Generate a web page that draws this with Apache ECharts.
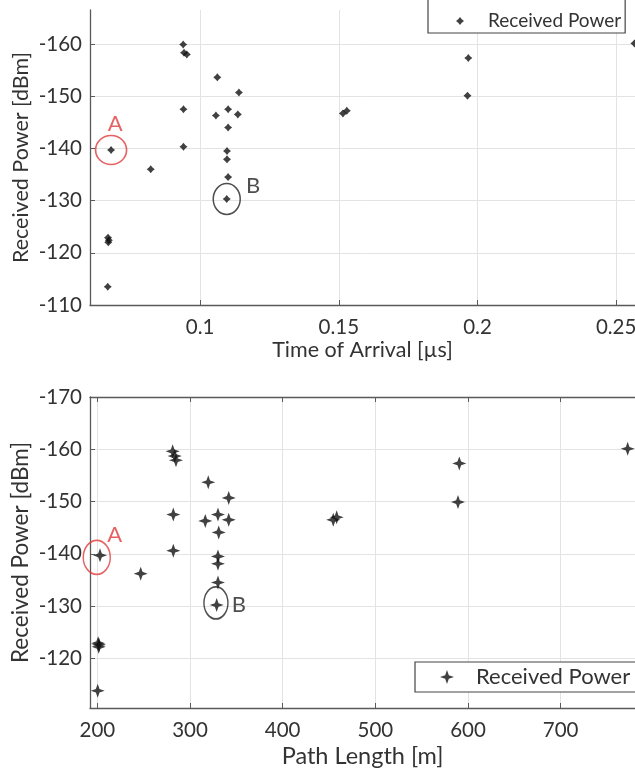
<!DOCTYPE html>
<html>
<head>
<meta charset="utf-8">
<script src="https://cdn.jsdelivr.net/npm/echarts@6/dist/echarts.min.js"></script>
<style>
  html, body { margin: 0; padding: 0; background: #fff; }
  #chart { width: 635px; height: 774px; }
</style>
</head>
<body>
<div id="chart"></div>
<script>
// top panel: received power vs time of arrival [us]
const toaTime = [0.0667, 0.0668, 0.0671, 0.0669, 0.0679, 0.0822, 0.0939, 0.0942, 0.0952, 0.0940, 0.0940,
  0.1062, 0.1140, 0.1057, 0.1101, 0.1136, 0.1101, 0.1097, 0.1097, 0.1101, 0.1096, 0.1515, 0.1529, 0.1967, 0.1964, 0.2566];
const toaPower = [-113.5, -122.9, -122.4, -122.0, -139.7, -136.0, -159.9, -158.3, -158.0, -147.5, -140.3,
  -153.6, -150.7, -146.3, -147.5, -146.5, -144.0, -139.5, -137.9, -134.5, -130.3, -146.7, -147.2, -157.3, -150.1, -160.1];

// bottom panel: received power vs path length [m]
const pathLen = [200.4, 200.9, 201.8, 201.5, 202.9, 246.8, 281.3, 283.5, 284.9, 282.0, 282.0,
  319.7, 341.8, 316.5, 330.2, 341.8, 331.0, 330.2, 330.2, 330.2, 328.8, 454.6, 458.3, 590.6, 589.2, 772.3];
const pathPower = [-113.8, -122.9, -122.6, -122.2, -139.7, -136.2, -159.6, -158.7, -157.9, -147.5, -140.6,
  -153.7, -150.7, -146.3, -147.5, -146.5, -144.1, -139.5, -138.1, -134.5, -130.2, -146.5, -147.0, -157.3, -149.9, -160.1];

// marked paths A and B (index into the arrays above)
const markA = 4;
const markB = 20;

const FONT = 'Lato';
const TXT = '#333';
const AXIS = '#5a5a5a';
const GRIDLINE = '#e3e3e3';

const dotPath = 'path://M0,-10 L4.5,-4.5 L10,0 L4.5,4.5 L0,10 L-4.5,4.5 L-10,0 L-4.5,-4.5 Z';
const starPath = 'path://M0,-10 L2.6,-2.6 L10,0 L2.6,2.6 L0,10 L-2.6,2.6 L-10,0 L-2.6,-2.6 Z';

function zip(xs, ys) { return xs.map((x, i) => [x, ys[i]]); }

function xAxisOf(grid, min, max, split, name, gap, nameSize) {
  return {
    type: 'value', gridIndex: grid, min: min, max: max, splitNumber: split,
    name: name, nameLocation: 'middle', nameGap: gap,
    nameTextStyle: { fontFamily: FONT, fontSize: nameSize, color: TXT },
    axisLine: { show: true, onZero: false, lineStyle: { color: AXIS, width: 1.3 } },
    axisTick: { show: true, inside: true, length: 5, lineStyle: { color: AXIS } },
    axisLabel: { fontFamily: FONT, fontSize: 20.5, color: TXT, margin: 12, showMinLabel: false, showMaxLabel: false },
    splitLine: { show: true, showMinLine: false, showMaxLine: false, lineStyle: { color: GRIDLINE, width: 1 } }
  };
}

function yAxisOf(grid, min, max, minLabel, maxLabel, nameSize) {
  return {
    type: 'value', gridIndex: grid, inverse: true, min: min, max: max, splitNumber: 5,
    name: 'Received Power [dBm]', nameLocation: 'middle', nameGap: 58, nameMoveOverlap: false,
    nameTextStyle: { fontFamily: FONT, fontSize: nameSize, color: TXT },
    axisLine: { show: true, onZero: false, lineStyle: { color: AXIS, width: 1.3 } },
    axisTick: { show: true, inside: true, length: 5, lineStyle: { color: AXIS } },
    axisLabel: { fontFamily: FONT, fontSize: 20.5, color: TXT, margin: 8, showMinLabel: minLabel, showMaxLabel: maxLabel },
    splitLine: { show: true, showMinLine: false, showMaxLine: false, lineStyle: { color: GRIDLINE, width: 1 } }
  };
}

function ring(name, grid, pt, color, w, h, label, pos, offset) {
  return {
    name: name, type: 'scatter', xAxisIndex: grid, yAxisIndex: grid, z: 5, silent: true,
    data: [pt], symbol: 'circle', symbolSize: [w, h],
    itemStyle: { color: 'rgba(0,0,0,0)', borderColor: color, borderWidth: 1.6 },
    label: { show: true, formatter: label, position: pos, distance: 3, offset: offset,
      fontFamily: FONT, fontSize: 22, color: color }
  };
}

const chart = echarts.init(document.getElementById('chart'), null, { renderer: 'canvas' });

chart.setOption({
  animation: false,
  backgroundColor: '#fff',
  grid: [
    { left: 90, right: 0, top: 10, height: 295, outerBoundsMode: 'none', containLabel: false },
    { left: 90, right: 0, top: 397, height: 311, outerBoundsMode: 'none', containLabel: false }
  ],
  xAxis: [
    xAxisOf(0, 0.0603, 0.2568, 4, 'Time of Arrival [\u00b5s]', 33, 21.5),
    xAxisOf(1, 192.1, 780.2, 5, 'Path Length [m]', 36, 23.5),
    {
      type: 'value', gridIndex: 1, position: 'top', min: 192.1, max: 780.2, splitNumber: 5,
      axisLine: { show: true, onZero: false, lineStyle: { color: AXIS, width: 1.3 } },
      axisTick: { show: true, inside: true, length: 5, lineStyle: { color: AXIS } },
      axisLabel: { show: false }, splitLine: { show: false }
    }
  ],
  yAxis: [
    yAxisOf(0, -166.5, -110, false, true, 21.5),
    yAxisOf(1, -170, -110.5, true, false, 22.5)
  ],
  legend: [
    {
      data: ['toa'], left: 428, top: -9, orient: 'horizontal',
      formatter: () => 'Received Power',
      padding: [20, 4, 2, 28], itemWidth: 8, itemHeight: 8,
      borderColor: '#444', borderWidth: 1.2, backgroundColor: '#fff',
      textStyle: { fontFamily: FONT, fontSize: 19, color: TXT, lineHeight: 20, padding: [0, 0, 0, 19] }
    },
    {
      data: ['path'], left: 415, top: 662, orient: 'horizontal',
      formatter: () => 'Received Power',
      padding: [4, 20, 4, 25], itemWidth: 14, itemHeight: 14,
      borderColor: '#444', borderWidth: 1.2, backgroundColor: '#fff',
      textStyle: { fontFamily: FONT, fontSize: 22, color: TXT, lineHeight: 22, padding: [0, 0, 0, 17] }
    }
  ],
  series: [
    {
      name: 'toa', type: 'scatter', xAxisIndex: 0, yAxisIndex: 0,
      symbol: dotPath, symbolSize: 8, itemStyle: { color: '#111' },
      data: zip(toaTime, toaPower)
    },
    {
      name: 'path', type: 'scatter', xAxisIndex: 1, yAxisIndex: 1,
      symbol: starPath, symbolSize: 14, itemStyle: { color: '#111' },
      data: zip(pathLen, pathPower)
    },
    ring('ringA1', 0, [toaTime[markA], toaPower[markA]], '#e0393b', 31, 29, 'A', 'top', [4, 3]),
    ring('ringB1', 0, [toaTime[markB], toaPower[markB]], '#222', 27, 31, 'B', 'right', [2, -13]),
    ring('ringA2', 1, [pathLen[markA] - 3.5, pathPower[markA] + 0.4], '#e0393b', 27, 34, 'A', 'top', [18, 9]),
    ring('ringB2', 1, [pathLen[markB] - 0.8, pathPower[markB] - 0.4], '#222', 24, 32, 'B', 'right', [0, 2])
  ]
});
</script>
</body>
</html>
